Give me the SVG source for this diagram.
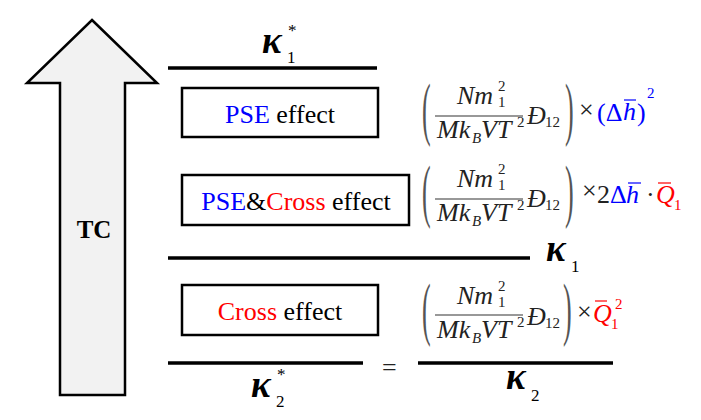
<svg xmlns="http://www.w3.org/2000/svg" width="701" height="420" viewBox="0 0 701 420" font-family="'Liberation Serif', Tinos, 'Times New Roman', Times, 'Noto Serif', 'DejaVu Serif', serif">
<style>
.box{fill:#fff;stroke:#000;stroke-width:2.5}
.bar{stroke:#000;stroke-width:3.5}
.fbar{stroke:#333;stroke-width:1.2}
.lbl{font-size:26px;fill:#000}
.m{font-style:italic;font-size:26px;fill:#222}
.u{font-size:26px;fill:#222}
.s{font-size:15px;fill:#222}
.p{font-size:26px;fill:#555}
.k{font-style:italic;font-weight:bold;font-size:37px;fill:#000}
.ks{font-size:17px;fill:#000}
.blue{fill:#0000ff}
.red{fill:#ff0000}
</style>
<g id="tc-arrow">
<polygon points="92,20 157,83 125,83 125,395 60,395 60,83 27,83" fill="#f2f2f2" stroke="#000" stroke-width="2.5" stroke-linejoin="miter"/>
<text x="94" y="238" text-anchor="middle" font-weight="bold" font-size="25">TC</text>
</g>
<g id="connectors">
<line class="bar" x1="168" y1="68" x2="377" y2="68"/>
<line class="bar" x1="168" y1="258" x2="530" y2="258"/>
<line class="bar" x1="168" y1="363" x2="363" y2="363"/>
<line class="bar" x1="418" y1="363" x2="613" y2="363"/>
</g>
<g id="kappa1-star">
<text class="k" x="262" y="53">κ</text>
<text class="ks" x="287" y="63">1</text>
<text class="ks" x="288" y="36" font-size="14">*</text>
</g>
<g id="pse-box">
<rect class="box" x="182" y="88" width="196" height="49"/>
<text class="lbl" x="280" y="123" text-anchor="middle"><tspan class="blue">PSE</tspan> effect</text>
</g>
<g id="pse-formula">
<text class="p" transform="translate(422,132) scale(1,2.7)">(</text>
<text class="m" x="457" y="104">Nm</text>
<text class="s" x="498" y="91">2</text>
<text class="s" x="498" y="107">1</text>
<line class="fbar" x1="435" y1="116" x2="523" y2="116"/>
<text class="m" x="437" y="138">Mk</text>
<text class="s" x="472" y="143" font-style="italic" font-size="13">B</text>
<text class="m" x="481" y="138">VT</text>
<text class="s" x="517" y="127">2</text>
<text class="m" x="527" y="124">Đ</text>
<text class="s" x="545" y="127" font-size="17">12</text>
<text class="p" transform="translate(565,132) scale(1,2.7)">)</text>
<text class="u" x="579" y="118" font-size="20">×</text>
<text class="u blue" x="597" y="121" font-size="28">(Δ</text>
<text class="m blue" x="623" y="120">h</text>
<line x1="624" y1="100" x2="636" y2="100" stroke="#0000ff" stroke-width="1.2"/>
<text class="u blue" x="637" y="121" font-size="28">)</text>
<text class="s blue" x="647" y="98">2</text>
</g>
<g id="pse-cross-box">
<rect class="box" x="182" y="175" width="227" height="50"/>
<text class="lbl" x="296" y="210" text-anchor="middle"><tspan class="blue">PSE</tspan>&amp;<tspan class="red">Cross</tspan> effect</text>
</g>
<g id="pse-cross-formula">
<text class="p" transform="translate(422,214) scale(1,2.7)">(</text>
<text class="m" x="457" y="187">Nm</text>
<text class="s" x="498" y="174">2</text>
<text class="s" x="498" y="190">1</text>
<line class="fbar" x1="435" y1="199" x2="523" y2="199"/>
<text class="m" x="437" y="221">Mk</text>
<text class="s" x="472" y="226" font-style="italic" font-size="13">B</text>
<text class="m" x="481" y="221">VT</text>
<text class="s" x="517" y="210">2</text>
<text class="m" x="527" y="207">Đ</text>
<text class="s" x="545" y="210" font-size="17">12</text>
<text class="p" transform="translate(565,214) scale(1,2.7)">)</text>
<text class="u" x="582" y="199" font-size="20">×</text>
<text class="u" x="597" y="203" font-size="22">2</text>
<text class="u blue" x="610" y="203" font-size="22">Δ</text>
<text class="m blue" x="626" y="203" font-size="24">h</text>
<line x1="628" y1="183" x2="641" y2="183" stroke="#0000ff" stroke-width="1.2"/>
<text class="u" x="646" y="203" font-size="22">·</text>
<text class="m red" x="656" y="203" font-size="24">Q</text>
<line x1="658" y1="183" x2="671" y2="183" stroke="#ff0000" stroke-width="1.2"/>
<text class="s red" x="674" y="210" font-size="14">1</text>
</g>
<g id="kappa1">
<text class="k" x="546" y="261">κ</text>
<text class="ks" x="571" y="272">1</text>
</g>
<g id="cross-box">
<rect class="box" x="182" y="285" width="196" height="50"/>
<text class="lbl" x="280" y="320" text-anchor="middle"><tspan class="red">Cross</tspan> effect</text>
</g>
<g id="cross-formula">
<text class="p" transform="translate(422,332) scale(1,2.7)">(</text>
<text class="m" x="457" y="304">Nm</text>
<text class="s" x="498" y="291">2</text>
<text class="s" x="498" y="307">1</text>
<line class="fbar" x1="435" y1="315" x2="523" y2="315"/>
<text class="m" x="437" y="338">Mk</text>
<text class="s" x="472" y="343" font-style="italic" font-size="13">B</text>
<text class="m" x="481" y="338">VT</text>
<text class="s" x="517" y="327">2</text>
<text class="m" x="527" y="325">Đ</text>
<text class="s" x="545" y="328" font-size="17">12</text>
<text class="p" transform="translate(563,332) scale(1,2.7)">)</text>
<text class="u" x="577" y="320" font-size="20">×</text>
<text class="m red" x="593" y="322" font-size="24">Q</text>
<line x1="595" y1="301" x2="607" y2="301" stroke="#ff0000" stroke-width="1.2"/>
<text class="s red" x="611" y="329" font-size="14">1</text>
<text class="s red" x="615" y="309" font-size="14">2</text>
</g>
<g id="kappa2-star">
<text class="k" x="251" y="397">κ</text>
<text class="ks" x="276" y="407">2</text>
<text class="ks" x="277" y="380" font-size="14">*</text>
</g>
<g id="equals">
<text class="u" x="382" y="376" font-size="34" fill="#000">=</text>
</g>
<g id="kappa2">
<text class="k" x="506" y="389">κ</text>
<text class="ks" x="531" y="401">2</text>
</g>
</svg>
